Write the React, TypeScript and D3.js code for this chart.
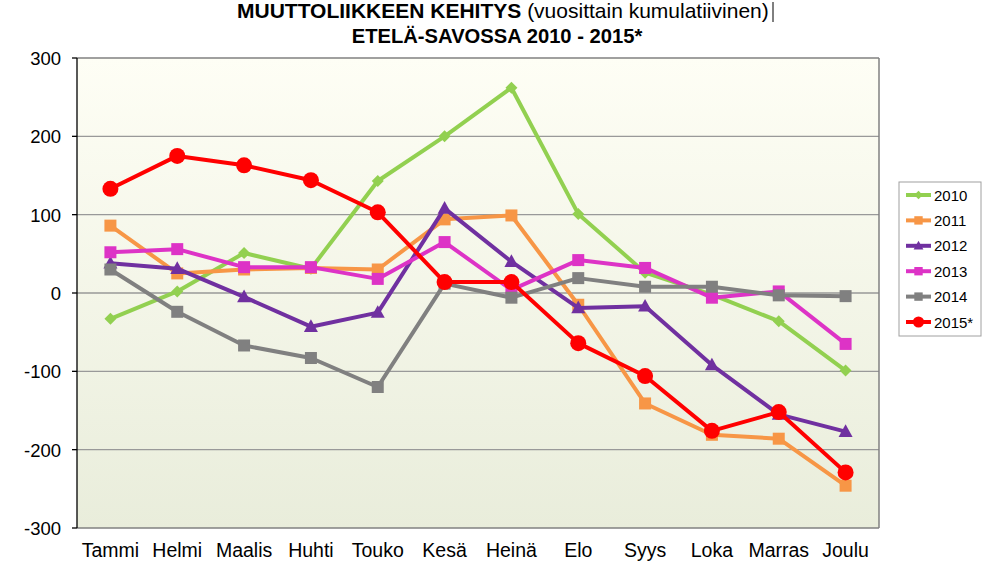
import React from "react";
import * as d3 from "d3";

const months = ["Tammi", "Helmi", "Maalis", "Huhti", "Touko", "Kesä", "Heinä", "Elo", "Syys", "Loka", "Marras", "Joulu"];
const yTicks = [300, 200, 100, 0, -100, -200, -300];

const v2010 = [-33, 2, 51, 31, 143, 200, 262, 101, 26, -2, -36, -99];
const v2011 = [86, 25, 30, 32, 30, 94, 99, -15, -141, -181, -186, -246];
const v2012 = [38, 31, -5, -43, -25, 108, 40, -19, -17, -92, -155, -177];
const v2013 = [52, 56, 33, 33, 18, 65, 4, 42, 32, -6, 2, -65];
const v2014 = [30, -24, -67, -83, -120, 12, -6, 19, 8, 8, -3, -4];
const v2015 = [133, 175, 163, 144, 103, 14, 14, -64, -106, -176, -152, -229];

const seriesNames = ["2010", "2011", "2012", "2013", "2014", "2015*"];
const seriesColors = ["#92d050", "#f79646", "#7030a0", "#dd33c6", "#808080", "#ff0000"];
const seriesMarkers = ["diamond", "square", "triangle", "square", "square", "circle"];

const W = 988, H = 572;
const M = { left: 77, right: 879, top: 58, bottom: 528 };

function Marker({ type, x, y, color, scale = 1 }: { type: string; x: number; y: number; color: string; scale?: number }) {
  if (type === "circle") return <circle cx={x} cy={y} r={8 * scale} fill={color} />;
  if (type === "square") {
    const s = 12 * scale;
    return <rect x={x - s / 2} y={y - s / 2} width={s} height={s} fill={color} />;
  }
  if (type === "triangle") {
    const s = 7 * scale;
    return <path d={`M${x},${y - s * 1.05} L${x + s},${y + s * 0.75} L${x - s},${y + s * 0.75} Z`} fill={color} />;
  }
  const s = 6 * scale;
  return <path d={`M${x},${y - s} L${x + s},${y} L${x},${y + s} L${x - s},${y} Z`} fill={color} />;
}

export default function App() {
  const data = [v2010, v2011, v2012, v2013, v2014, v2015];
  const x = d3.scaleBand().domain(months).range([M.left, M.right]);
  const y = d3.scaleLinear().domain([-300, 300]).range([M.bottom, M.top]);
  const cx = (m: string) => (x(m) as number) + x.bandwidth() / 2;
  const line = d3.line<number>().x((_, i) => cx(months[i])).y((d) => y(d));

  return (
    <svg width={W} height={H} style={{ position: "absolute", left: 0, top: 0, fontFamily: "Liberation Sans, Arial, sans-serif" }}>
      <defs>
        <linearGradient id="bg" x1="0" y1="0" x2="0" y2="1">
          <stop offset="0" stopColor="#fefef5" />
          <stop offset="1" stopColor="#e9eddb" />
        </linearGradient>
      </defs>
      <rect width={W} height={H} fill="#ffffff" />
      <rect x={M.left} y={M.top} width={M.right - M.left} height={M.bottom - M.top} fill="url(#bg)" />
      {yTicks.filter((t) => t !== -300 && t !== 300).map((t) => (
        <line key={t} x1={M.left} x2={M.right} y1={y(t)} y2={y(t)} stroke="#999999" strokeWidth={1.3} />
      ))}
      <line x1={M.left} x2={M.right} y1={M.top} y2={M.top} stroke="#808080" strokeWidth={1.5} />
      <line x1={M.right} x2={M.right} y1={M.top} y2={M.bottom} stroke="#808080" strokeWidth={1.5} />
      <line x1={M.left} x2={M.right} y1={M.bottom} y2={M.bottom} stroke="#808080" strokeWidth={1.5} />
      <line x1={M.left} x2={M.left} y1={M.top} y2={M.bottom} stroke="#000000" strokeWidth={1.3} />
      {yTicks.map((t) => (
        <g key={t}>
          <line x1={M.left - 5} x2={M.left} y1={y(t)} y2={y(t)} stroke="#000" strokeWidth={1.3} />
          <text x={61} y={y(t) + 7} textAnchor="end" fontSize={18.5} fill="#000">{t}</text>
        </g>
      ))}
      {months.map((m) => (
        <text key={m} x={cx(m)} y={557} textAnchor="middle" fontSize={19.5} fill="#000">{m}</text>
      ))}
      {data.map((vals, si) => (
        <g key={si}>
          <path d={line(vals) as string} fill="none" stroke={seriesColors[si]} strokeWidth={4} strokeLinejoin="round" />
          {vals.map((v, i) => (
            <Marker key={i} type={seriesMarkers[si]} x={cx(months[i])} y={y(v)} color={seriesColors[si]} />
          ))}
        </g>
      ))}
      <text x={237} y={18} textAnchor="start" fontSize={21} fill="#000">
        <tspan fontWeight="bold">MUUTTOLIIKKEEN KEHITYS</tspan>
        <tspan> (vuosittain kumulatiivinen)</tspan>
      </text>
      <line x1={773} x2={773} y1={2} y2={22} stroke="#000" strokeWidth={1} />
      <text x={497} y={43} textAnchor="middle" fontSize={20.2} fontWeight="bold" fill="#000">ETELÄ-SAVOSSA 2010 - 2015*</text>
      <rect x={899} y={182} width={82} height={154} fill="#fff" stroke="#a0a0a0" strokeWidth={1} />
      {seriesNames.map((n, i) => {
        const ly = 195 + i * 25.4;
        return (
          <g key={n}>
            <line x1={906} x2={931} y1={ly} y2={ly} stroke={seriesColors[i]} strokeWidth={4} />
            <Marker type={seriesMarkers[i]} x={918.5} y={ly} color={seriesColors[i]} scale={0.7} />
            <text x={934} y={ly + 5.5} fontSize={15} fill="#000">{n}</text>
          </g>
        );
      })}
    </svg>
  );
}
